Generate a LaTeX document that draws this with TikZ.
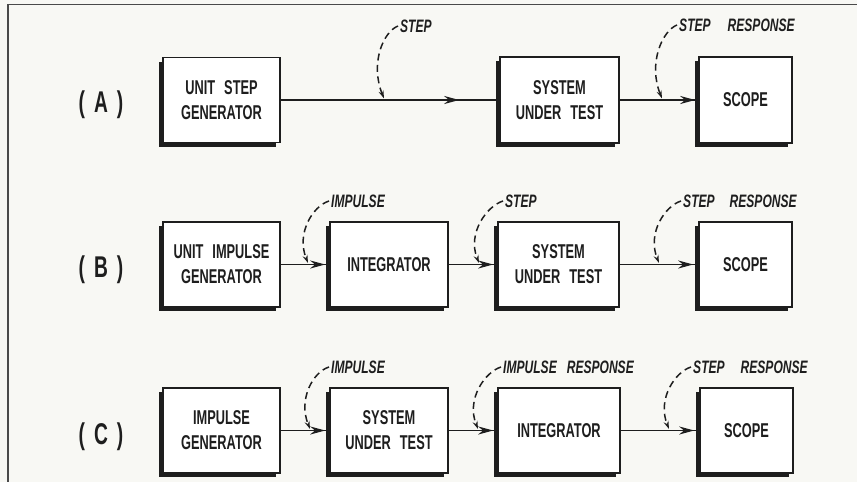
\documentclass[tikz,border=0pt]{standalone}
\usepackage{fontspec}
\setmainfont{Liberation Sans}
\newfontfamily\boxfont[FakeStretch=0.64]{Liberation Sans}
\newfontfamily\sigfont[FakeStretch=0.67]{Liberation Sans}
\usetikzlibrary{arrows.meta,shadows,decorations.markings}
\definecolor{ink}{HTML}{1E1E1E}
\definecolor{paper}{HTML}{F8F8F4}
\definecolor{frame}{HTML}{4A4A4A}
\tikzset{
  blk/.style={draw=ink, line width=1.6pt, fill=white, inner sep=0pt, align=center,
    text=ink, font=\boxfont\bfseries\fontsize{20}{25}\selectfont,
    general shadow={fill=ink, shadow xshift=-4pt, shadow yshift=-4pt}},
  rowlab/.style={text=ink, inner sep=0pt, font=\boxfont\bfseries\fontsize{30}{30}\selectfont},
  sig/.style={text=ink, inner sep=0pt, anchor=west, font=\sigfont\bfseries\itshape\fontsize{18}{18}\selectfont},
  conn/.style={draw=ink, line width=1.9pt},
  midtip/.style={postaction={decorate}, decoration={markings,
    mark=at position #1 with {\arrow{Stealth[length=15pt,width=8pt]}}}},
  ann/.style={draw=ink, line width=1.5pt, dash pattern=on 7pt off 4.5pt,
    -{Stealth[length=8pt,width=5pt]}},
}
\begin{document}
\begin{tikzpicture}[x=1pt,y=-1pt]
\useasboundingbox[fill=paper] (0,0) rectangle (857,482);
\draw[frame, line width=1.6pt] (8,482) -- (8,4.5) -- (857,4.5);

% ---------- Row A ----------
\node[rowlab] (labA) at (101,105) {(\hspace{9pt}A\hspace{9pt})};
\node[blk, minimum width=117pt, minimum height=85pt] (genA) at (221.5,100) {UNIT\hspace{9pt}STEP\\GENERATOR};
\node[blk, minimum width=119pt, minimum height=86pt] (sutA) at (559.5,100) {SYSTEM\\UNDER\hspace{9pt}TEST};
\node[blk, minimum width=93pt, minimum height=86pt] (scoA) at (745.5,100) {SCOPE};
\draw[conn, midtip=-40pt] (genA.east) -- (sutA.west);
\draw[conn, midtip=-3pt] (sutA.east) -- (scoA.west);
\node[sig] (stA) at (400,26) {STEP};
\node[sig] (srA) at (679,25) {STEP\hspace{17pt}RESPONSE};
\coordinate (pA1) at (384,98.5);
\coordinate (pA2) at (662,98.5);
\draw[ann] ([xshift=-2pt]stA.west) .. controls +(-15,6) and +(-14,-35) .. (pA1);
\draw[ann] ([xshift=-2pt]srA.west) .. controls +(-15,6) and +(-14,-35) .. (pA2);

% ---------- Row B ----------
\node[rowlab] (labB) at (101,270) {(\hspace{9pt}B\hspace{9pt})};
\node[blk, minimum width=117pt, minimum height=85pt] (genB) at (221.5,264.5) {UNIT\hspace{9pt}IMPULSE\\GENERATOR};
\node[blk, minimum width=118pt, minimum height=85pt] (intB) at (389,264.5) {INTEGRATOR};
\node[blk, minimum width=121pt, minimum height=85pt] (sutB) at (558.5,264.5) {SYSTEM\\UNDER\hspace{9pt}TEST};
\node[blk, minimum width=93pt, minimum height=85pt] (scoB) at (745.5,264.5) {SCOPE};
\draw[conn, midtip=-4pt] (genB.east) -- (intB.west);
\draw[conn, midtip=-4pt] (intB.east) -- (sutB.west);
\draw[conn, midtip=-5pt] (sutB.east) -- (scoB.west);
\node[sig] (imB) at (331,201) {IMPULSE};
\node[sig] (stB) at (505,201) {STEP};
\node[sig] (srB) at (683,201) {STEP\hspace{15pt}RESPONSE};
\coordinate (pB1) at (308,263);
\coordinate (pB2) at (479,263);
\coordinate (pB3) at (659,263);
\draw[ann] ([xshift=-2pt]imB.west) .. controls +(-16,5) and +(-12,-30) .. (pB1);
\draw[ann] ([xshift=-2pt]stB.west) .. controls +(-16,5) and +(-12,-30) .. (pB2);
\draw[ann] ([xshift=-2pt]srB.west) .. controls +(-16,5) and +(-12,-30) .. (pB3);

% ---------- Row C ----------
\node[rowlab] (labC) at (101,437) {(\hspace{9pt}C\hspace{9pt})};
\node[blk, minimum width=117pt, minimum height=85pt] (genC) at (221.5,430.5) {IMPULSE\\GENERATOR};
\node[blk, minimum width=118pt, minimum height=85pt] (sutC) at (389,430.5) {SYSTEM\\UNDER\hspace{9pt}TEST};
\node[blk, minimum width=122pt, minimum height=85pt] (intC) at (559,430.5) {INTEGRATOR};
\node[blk, minimum width=93pt, minimum height=85pt] (scoC) at (746.5,430.5) {SCOPE};
\draw[conn, midtip=-4pt] (genC.east) -- (sutC.west);
\draw[conn, midtip=-4pt] (sutC.east) -- (intC.west);
\draw[conn, midtip=-5pt] (intC.east) -- (scoC.west);
\node[sig] (imC) at (331,367) {IMPULSE};
\node[sig] (irC) at (503,367) {IMPULSE\hspace{10pt}RESPONSE};
\node[sig] (srC) at (693,367) {STEP\hspace{16pt}RESPONSE};
\coordinate (pC1) at (310,429);
\coordinate (pC2) at (478,429);
\coordinate (pC3) at (669,429);
\draw[ann] ([xshift=-2pt]imC.west) .. controls +(-16,5) and +(-12,-30) .. (pC1);
\draw[ann] ([xshift=-2pt]irC.west) .. controls +(-16,5) and +(-12,-30) .. (pC2);
\draw[ann] ([xshift=-2pt]srC.west) .. controls +(-16,5) and +(-12,-30) .. (pC3);
\end{tikzpicture}
\end{document}
